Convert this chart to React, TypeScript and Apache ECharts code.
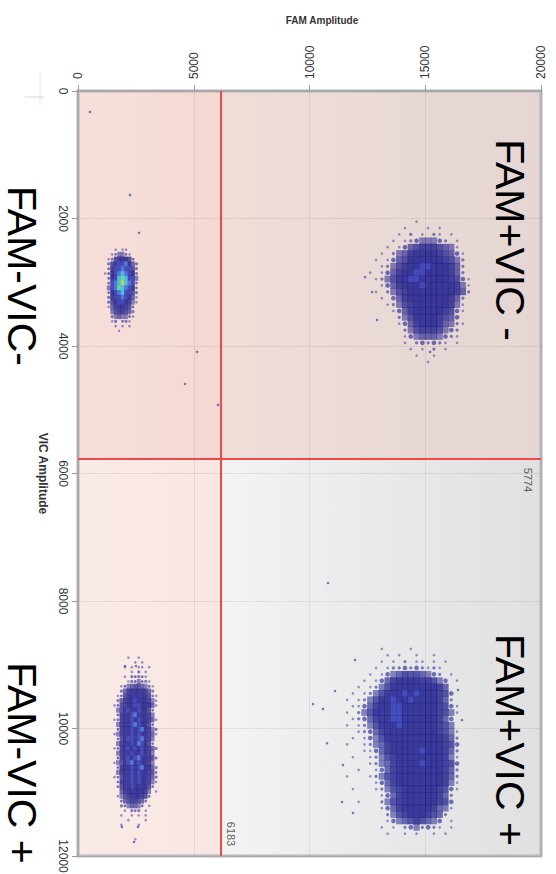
import React, { useEffect, useRef } from "react";
import * as echarts from "echarts";

// ---------- data ----------
const famRange = [0, 20000];
const vicRange = [0, 12000];
const famInterval = 5000;
const vicInterval = 2000;
const famThreshold = 6183;
const vicThreshold = 5774;

const quadrantLabels = ["FAM+VIC -", "FAM-VIC-", "FAM+VIC +", "FAM-VIC +"];

// density grids: rows go along VIC (top -> bottom), columns along FAM (left -> right)
// '.' = empty, 1..9 = density, a..e = hot density (cyan/green/yellow)
const negNegOrigin = [1100, 2450];
const negNegStep = [150, 75];
const negNegRows = [
  "...1.11....",
  "..134431...",
  ".13688863..",
  ".26899a852.",
  ".3799a9962.",
  "1389aba983.",
  ".389bcb994.",
  ".39abdba93.",
  ".49acba983.",
  ".389ab9962.",
  ".2799a9851.",
  ".268998741.",
  ".15788763..",
  "..4677652..",
  "..2454431..",
  "..12.321...",
  "...1.1.1...",
  "....1......",
];

const posNegOrigin = [12500, 2000];
const posNegStep = [250, 100];
const posNegRows = [
  "........1.........",
  "......1...1.1.....",
  ".....1.2.1.21.1...",
  "....1.12344432.1..",
  "...1.13567776541..",
  "..1.2457888876531.",
  ".1.13568888887642.",
  "..124678899888752.",
  "1.135788998888752.",
  ".12468899888887631",
  "..1357888988888741",
  ".1.246788888888752",
  "..1.3578888888752.",
  "...12467888888741.",
  "....1357888887631.",
  ".....24688887653..",
  ".....135788875421.",
  "......2467776432..",
  "......1345554321..",
  "......1.232321.1..",
  ".......1.1.2.1....",
  "........1..1......",
  "..........1.......",
];

const negPosOrigin = [1500, 8700];
const negPosStep = [150, 75];
const negPosRows = [
  ".............",
  ".............",
  "....1..1.....",
  "......1.1....",
  "...1.1.11.1..",
  ".....1.2.1...",
  "...1.23231...",
  "....1234321..",
  "..1345665431.",
  "..2578888752.",
  ".136888888631",
  ".257889888741",
  "1367889988851",
  ".46898898863.",
  ".37889a88874.",
  "1378898988751",
  ".47889a98863.",
  ".3788989a8742",
  "1478898988751",
  ".3689989a874.",
  ".478898a9863.",
  "1378989898752",
  ".47889889874.",
  ".378989a88863",
  "14689a898874.",
  ".3788989a8852",
  ".478898988763",
  "1368898988752",
  ".378898988741",
  ".36889888863.",
  "..578888874.1",
  ".1467888763..",
  "..35677653...",
  "..2345543.1..",
  "...1.232.1...",
  "..1..1.1.1...",
  "....1....1...",
  "..1....1.....",
  ".............",
  ".............",
  "......1......",
];

const posPosOrigin = [11500, 8700];
const posPosStep = [250, 100];
const posPosRows = [
  "......1....1........",
  ".......1.1..1..1....",
  "......1.1.2.11.1.1..",
  ".....1.1223232121...",
  "....1.13456665432.1.",
  "...1.1357888877643.1",
  "..1.12468888888875..",
  ".1.1246888989888763.",
  "1.12468898898888752.",
  ".1135788998888887631",
  "1.246888998888887641",
  ".123578899888888753.",
  "1.12468889888888764.",
  "..123578888888887641",
  ".1.13468888888888752",
  "1..12457888888888763",
  "...11357888889888752",
  ".1..1246788888888741",
  "....1245788889888763",
  "..1..135788888888752",
  "1...1246788888888752",
  ".....135788888888741",
  ".1...124678888887631",
  "......1357888888752.",
  "..1...2467888888763.",
  "......1357888887541.",
  ".......24678887652..",
  ".......1345676543.1.",
  "......1.1.2342321.1.",
  ".......1..1.1..1.1..",
];

// isolated droplets [FAM, VIC]
const outliers = [
  [518, 329], [2246, 1631], [2635, 2227], [5140, 4094], [4622, 4596], [6048, 4925],
  [10799, 7718], [10151, 9616], [10583, 9694], [10756, 10232], [11102, 9412],
  [11404, 11153], [11965, 8925], [11447, 10573], [11879, 11325],
  [1900, 11545], [2592, 11545], [2419, 11780], [2030, 9020], [2505, 9020],
  [12397, 2918], [12700, 3153], [15205, 4094], [12916, 3592], [16587, 9867], [16415, 9396],
];

// threshold value labels [FAM, VIC, text]
const thresholdLabels = [
  [19438, 6102, "5774"],
  [6609, 11655, "6183"],
];

// ---------- layout / style ----------
const W = 556;
const H = 874;
const GRID = { left: 78, right: 15, top: 91, bottom: 18 };
const PLOT_W = W - GRID.left - GRID.right;
const PLOT_H = H - GRID.top - GRID.bottom;
const FONT = '"Liberation Sans", Arial, Helvetica, sans-serif';

const levelColor: Record<number, string> = {
  1: "rgba(40,40,165,0.6)",
  2: "rgba(30,30,155,0.7)",
  3: "rgba(25,25,150,0.75)",
  4: "rgba(20,20,140,0.62)",
  5: "rgba(18,18,135,0.75)",
  6: "rgba(16,16,132,0.86)",
  7: "rgba(15,15,130,0.94)",
  8: "#0f0f86",
  9: "#1a26ae",
  10: "#2a5ed6",
  11: "#26b6d6",
  12: "#44d29c",
  13: "#a6d83a",
  14: "#eedc22",
};

function cells(origin: number[], step: number[], rows: string[]) {
  const cw = (step[0] * PLOT_W) / (famRange[1] - famRange[0]);
  const ch = (step[1] * PLOT_H) / (vicRange[1] - vicRange[0]);
  const out: any[] = [];
  rows.forEach((row, j) => {
    for (let i = 0; i < row.length; i++) {
      const c = row[i];
      if (c === ".") continue;
      const level = parseInt(c, 16);
      const fam = origin[0] + (i + 0.5) * step[0];
      const vic = origin[1] + (j + 0.5) * step[1];
      let symbol = "rect";
      let size: number[];
      if (level === 1) {
        symbol = "circle";
        size = [2.6, 2.6];
      } else if (level === 2) {
        symbol = "circle";
        size = [3.2, 3.2];
      } else if (level === 3) {
        symbol = "circle";
        size = [Math.min(cw, ch) * 0.8, Math.min(cw, ch) * 0.8];
      } else {
        size = [cw * 1.08, ch * 1.06];
      }
      out.push({
        value: [fam, vic],
        symbol,
        symbolSize: size,
        itemStyle: { color: levelColor[level] },
      });
    }
  });
  return out;
}

const plainNumber = (v: number) => String(v);

function buildOption() {
  const clusterData = [
    ...cells(negNegOrigin, negNegStep, negNegRows),
    ...cells(posNegOrigin, posNegStep, posNegRows),
    ...cells(negPosOrigin, negPosStep, negPosRows),
    ...cells(posPosOrigin, posPosStep, posPosRows),
  ];

  const grad = (a: string, b: string) =>
    new echarts.graphic.LinearGradient(0, 0, 1, 0, [
      { offset: 0, color: a },
      { offset: 1, color: b },
    ]);

  const labelPos = [
    [510, 240],
    [22, 276],
    [510, 740],
    [22, 763],
  ];

  return {
    animation: false,
    backgroundColor: "#ffffff",
    textStyle: { fontFamily: FONT },
    grid: {
      ...GRID,
      show: true,
      borderColor: "#b8b8b8",
      borderWidth: 3,
      backgroundColor: "transparent",
      z: 2,
      containLabel: false,
      outerBoundsMode: "none",
    },
    xAxis: {
      type: "value",
      position: "top",
      min: famRange[0],
      max: famRange[1],
      interval: famInterval,
      z: 2,
      name: "FAM Amplitude",
      nameLocation: "middle",
      nameGap: 66,
      nameTextStyle: { fontSize: 10, fontWeight: "bold", color: "#333", padding: [0, 0, 0, 25] },
      axisLine: { show: true, onZero: false, lineStyle: { color: "#a8a8a8", width: 2 } },
      axisTick: { show: true, length: 6, lineStyle: { color: "#9a9a9a" } },
      axisLabel: { rotate: -90, fontSize: 12, color: "#333", margin: 12, fontFamily: FONT, formatter: plainNumber },
      splitLine: { show: true, lineStyle: { color: "rgba(0,0,0,0.07)", width: 1 } },
    },
    yAxis: {
      type: "value",
      inverse: true,
      min: vicRange[0],
      max: vicRange[1],
      interval: vicInterval,
      z: 2,
      name: "VIC Amplitude",
      nameLocation: "middle",
      nameRotate: -90,
      nameGap: 22,
      nameTextStyle: { fontSize: 12, fontWeight: "bold", color: "#333" },
      axisLine: { show: true, onZero: false, lineStyle: { color: "#a8a8a8", width: 2 } },
      axisTick: { show: true, length: 6, lineStyle: { color: "#9a9a9a" } },
      axisLabel: { rotate: -90, fontSize: 12, color: "#333", margin: 9, fontFamily: FONT, formatter: plainNumber },
      splitLine: { show: true, lineStyle: { color: "rgba(0,0,0,0.07)", width: 1 } },
    },
    series: [
      {
        type: "scatter",
        name: "quadrants",
        data: [],
        silent: true,
        z: 1,
        markArea: {
          silent: true,
          z: 1,
          data: [
            [
              { xAxis: famRange[0], yAxis: vicRange[0], itemStyle: { color: grad("#f7dfd9", "#f4d9d2") } },
              { xAxis: famThreshold, yAxis: vicThreshold },
            ],
            [
              { xAxis: famThreshold, yAxis: vicRange[0], itemStyle: { color: grad("#efddd8", "#e5d6d3") } },
              { xAxis: famRange[1], yAxis: vicThreshold },
            ],
            [
              { xAxis: famRange[0], yAxis: vicThreshold, itemStyle: { color: grad("#faeae6", "#f8e6e2") } },
              { xAxis: famThreshold, yAxis: vicRange[1] },
            ],
            [
              { xAxis: famThreshold, yAxis: vicThreshold, itemStyle: { color: grad("#f4f3f3", "#e0e0e0") } },
              { xAxis: famRange[1], yAxis: vicRange[1] },
            ],
          ],
        },
      },
      {
        type: "scatter",
        name: "droplets",
        large: false,
        progressive: 0,
        silent: true,
        z: 3,
        data: clusterData,
      },
      {
        type: "scatter",
        name: "outliers",
        silent: true,
        z: 3,
        symbol: "circle",
        symbolSize: 2.6,
        itemStyle: { color: "rgba(35,35,160,0.75)" },
        data: outliers,
      },
      {
        type: "scatter",
        name: "thresholds",
        data: [],
        silent: true,
        markLine: {
          silent: true,
          symbol: ["none", "none"],
          label: { show: false },
          lineStyle: { color: "#f04848", width: 2, type: "solid" },
          data: [{ xAxis: famThreshold }, { yAxis: vicThreshold }],
        },
      },
      {
        type: "scatter",
        name: "thresholdLabels",
        silent: true,
        z: 4,
        symbolSize: 1,
        itemStyle: { color: "rgba(0,0,0,0)" },
        data: thresholdLabels.map((d) => ({ value: [d[0], d[1]], name: d[2] })),
        label: {
          show: true,
          position: "inside",
          formatter: "{b}",
          rotate: -90,
          fontSize: 11,
          color: "#333",
          fontFamily: FONT,
        },
      },
    ],
    graphic: [
      ...quadrantLabels.map((t, k) => ({
        type: "text",
        x: labelPos[k][0],
        y: labelPos[k][1],
        rotation: -Math.PI / 2,
        z: 10,
        silent: true,
        style: {
          text: t,
          fill: "#000",
          fontSize: 41,
          fontFamily: FONT,
          align: "center",
          verticalAlign: "middle",
        },
      })),
      {
        type: "line",
        silent: true,
        shape: { x1: 25, y1: 97, x2: 44, y2: 97 },
        style: { stroke: "#d6d6d6", lineWidth: 1 },
      },
      {
        type: "line",
        silent: true,
        shape: { x1: 40, y1: 72, x2: 40, y2: 106 },
        style: { stroke: "#e6e6e6", lineWidth: 1 },
      },
    ],
  };
}

export default function App() {
  const ref = useRef<HTMLDivElement>(null);
  useEffect(() => {
    if (!ref.current) return;
    const chart = echarts.init(ref.current, null, { renderer: "svg" });
    chart.setOption(buildOption() as any);
    return () => chart.dispose();
  }, []);
  return (
    <div
      ref={ref}
      style={{ position: "fixed", left: 0, top: 0, width: W, height: H, background: "#fff" }}
    />
  );
}
